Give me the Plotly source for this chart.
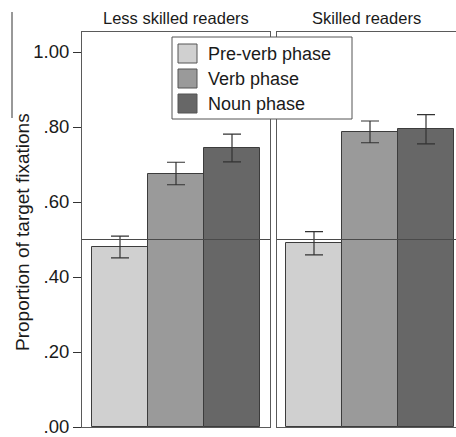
import plotly.graph_objects as go

# ---- data ----
phases = ["Pre-verb phase", "Verb phase", "Noun phase"]
groups = ["Less skilled readers", "Skilled readers"]
less_skilled = [0.480, 0.676, 0.744]
less_skilled_err = [0.029, 0.030, 0.037]
skilled = [0.490, 0.787, 0.794]
skilled_err = [0.031, 0.029, 0.039]
chance_level = 0.5
tick_vals = [0.0, 0.2, 0.4, 0.6, 0.8, 1.0]
tick_text = [".00", ".20", ".40", ".60", ".80", "1.00"]
y_title = "Proportion of target fixations"

colors = ["#d0d0d0", "#9a9a9a", "#676767"]
W, H = 456, 437
REG = "Liberation Sans, Arial, sans-serif"


def px(x, y):
    return x / W, 1 - y / H


fig = go.Figure()
xpos = list(range(len(phases)))
for i, (vals, errs) in enumerate([(less_skilled, less_skilled_err), (skilled, skilled_err)]):
    fig.add_trace(go.Bar(
        x=xpos, y=vals, width=1,
        marker=dict(color=colors, line=dict(color="#3c3c3c", width=1)),
        error_y=dict(type="data", array=errs, visible=True, color="#333333", thickness=1.2, width=9),
        xaxis="x" if i == 0 else "x2", yaxis="y" if i == 0 else "y2",
        showlegend=False, hoverinfo="skip",
    ))

y0p = 1 - 427 / H
y1p = 1 - 32 / H
yrange = [0, 395 / 375]
frame = "#5a5a5a"

layout = dict(
    width=W, height=H, autosize=False,
    margin=dict(l=0, r=0, t=0, b=0),
    paper_bgcolor="white", plot_bgcolor="white",
    font=dict(family=REG, color="#1a1a1a"),
    bargap=0,
    xaxis=dict(domain=[82 / W, 270 / W], range=[-0.5 - 10 / 56, 2.5 + 10 / 56],
               showticklabels=False, ticks="", showgrid=False, zeroline=False, automargin=False,
               showline=True, linecolor=frame, linewidth=1, mirror=True, fixedrange=True),
    xaxis2=dict(domain=[277 / W, 1.0], range=[-0.5 - 9 / 56, -0.5 - 9 / 56 + 179 / 56],
                showticklabels=False, ticks="", showgrid=False, zeroline=False, automargin=False,
                showline=True, linecolor=frame, linewidth=1, mirror=True, anchor="y2", fixedrange=True),
    yaxis=dict(domain=[y0p, y1p], range=yrange, tickvals=tick_vals, ticktext=tick_text,
               ticks="outside", ticklen=8, tickcolor="#333", tickwidth=1, automargin=False,
               ticklabeloverflow="allow",
               tickfont=dict(size=18.5, color="#1a1a1a"), showgrid=False, zeroline=False,
               showline=True, linecolor=frame, linewidth=1, mirror=True, fixedrange=True),
    yaxis2=dict(domain=[y0p, y1p], range=yrange, anchor="x2", showticklabels=False, ticks="",
                showgrid=False, zeroline=False, showline=True, linecolor=frame, linewidth=1,
                mirror=True, fixedrange=True, automargin=False),
)
fig.update_layout(**layout)

shapes = []
annotations = []
# chance-level reference lines drawn over the bars
for xr, yr in [("x domain", "y"), ("x2 domain", "y2")]:
    shapes.append(dict(type="line", xref=xr, yref=yr, x0=0, x1=1, y0=chance_level, y1=chance_level,
                       line=dict(color="#4a4a4a", width=1), layer="above"))

# panel headers
for xa, name in [("x domain", groups[0]), ("x2 domain", groups[1])]:
    annotations.append(dict(text=name, xref=xa, yref="paper", x=0.5, y=1 - 29 / H,
                            xanchor="center", yanchor="bottom", showarrow=False,
                            font=dict(size=16.5, color="#1a1a1a")))

# y-axis title
tx, ty = px(23, 232)
annotations.append(dict(text=y_title, xref="paper", yref="paper", x=tx, y=ty, textangle=-90,
                        xanchor="center", yanchor="middle", showarrow=False,
                        font=dict(size=19, color="#1a1a1a")))
# stray vertical rule at far left
ax0, ay0 = px(12, 12)
ax1, ay1 = px(12, 118)
shapes.append(dict(type="line", xref="paper", yref="paper", x0=ax0, x1=ax1, y0=ay0, y1=ay1,
                   line=dict(color="#333", width=1)))

# legend box
lx0, ly0 = px(172, 37)
lx1, ly1 = px(352, 119)
shapes.append(dict(type="rect", xref="paper", yref="paper", x0=lx0, x1=lx1, y0=ly1, y1=ly0,
                   fillcolor="white", line=dict(color="#555", width=1), layer="above"))
for k, (name, c) in enumerate(zip(phases, colors)):
    cy = 54 + 25 * k
    sx0, sy0 = px(178, cy - 10)
    sx1, sy1 = px(197, cy + 9)
    shapes.append(dict(type="rect", xref="paper", yref="paper", x0=sx0, x1=sx1, y0=sy1, y1=sy0,
                       fillcolor=c, line=dict(color="#555", width=1), layer="above"))
    tx2, ty2 = px(206, cy)
    annotations.append(dict(text=name, xref="paper", yref="paper", x=tx2, y=ty2,
                            xanchor="left", yanchor="middle", showarrow=False,
                            font=dict(size=18, color="#1a1a1a")))

fig.update_layout(shapes=shapes, annotations=annotations)
fig.write_html("out.html", config={"displayModeBar": False},
               post_script="document.body.style.margin='0';document.body.style.padding='0';")
